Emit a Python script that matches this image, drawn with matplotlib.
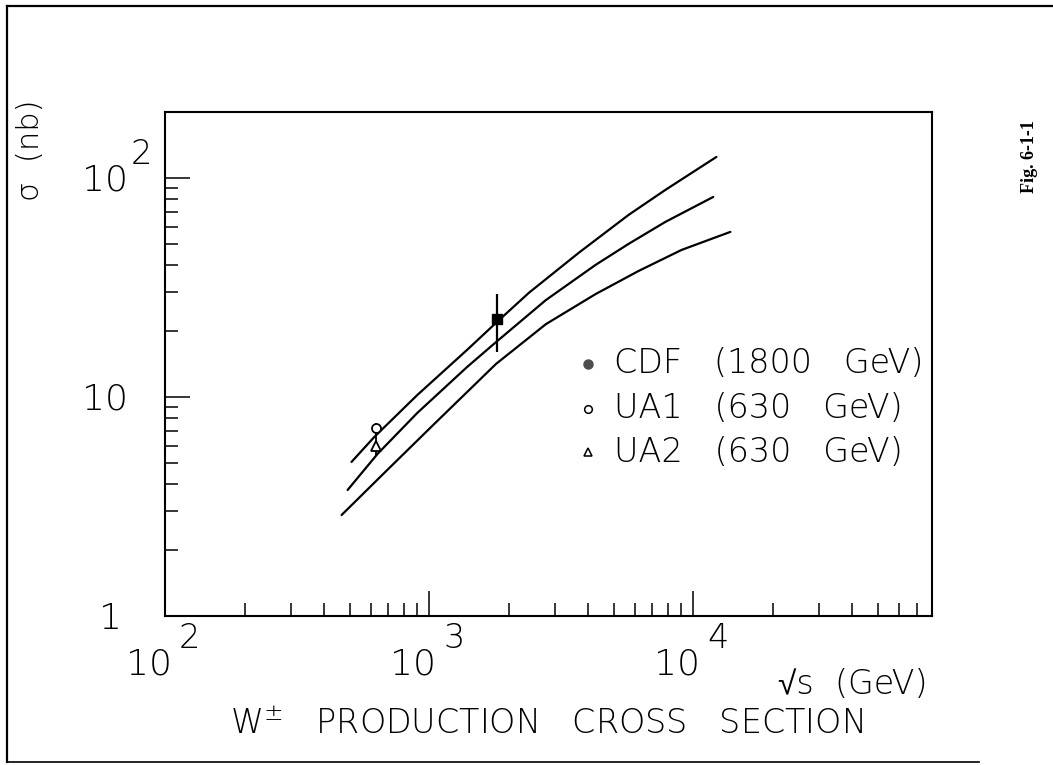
import matplotlib.pyplot as plt
from matplotlib.lines import Line2D
from matplotlib.ticker import LogLocator, NullFormatter

plt.rcParams['font.family'] = ['DejaVu Sans']
plt.rcParams['font.weight'] = 'light'
plt.rcParams['mathtext.fontset'] = 'dejavusans'

# theory curves (three of them)
upper_x = [508, 620, 901, 1391, 1805, 2385, 3680, 5685, 7835, 12220]
upper_y = [5.05, 6.57, 10.2, 16.4, 22.0, 29.9, 45.5, 67.8, 88.2, 124.7]
mid_x = [491, 637, 901, 1391, 1790, 2765, 4265, 5685, 7835, 11890]
mid_y = [3.76, 5.49, 8.45, 13.7, 17.8, 27.7, 40.1, 50.0, 63.0, 81.9]
low_x = [466, 676, 1045, 1790, 2765, 4265, 6200, 9015, 13800]
low_y = [2.89, 4.50, 7.53, 14.15, 21.5, 29.5, 37.6, 46.9, 56.7]

# measurements
cdf_x, cdf_y, cdf_err = [1800], [22.7], [[6.7], [6.8]]
ua1_x, ua1_y, ua1_err = [630], [7.2], [0.4]
ua2_x, ua2_y, ua2_err = [630], [5.97], [[0.53], [0.88]]

legend_labels = ['CDF   (1800   GeV)', 'UA1   (630   GeV)', 'UA2   (630   GeV)']
x_major = [1e2, 1e3, 1e4]
x_exps = ['2', '3', '4']
y_major = [1, 10, 100]
y_labels = ['1', '10', '10']
y_exps = ['', '', '2']

fig = plt.figure(figsize=(10.53, 7.65), dpi=100)
ax = fig.add_axes([0.1567, 0.1948, 0.7284, 0.6588])

lw = 1.6
for xs, ys in [(upper_x, upper_y), (mid_x, mid_y), (low_x, low_y)]:
    ax.plot(xs, ys, color='black', lw=lw, solid_capstyle='round',
            solid_joinstyle='round')

ax.errorbar(cdf_x, cdf_y, yerr=cdf_err, fmt='s', color='black', ms=6.5,
            elinewidth=1.6, capsize=0, zorder=5)
ax.errorbar(ua1_x, ua1_y, yerr=ua1_err, fmt='o', mfc='white', mec='black',
            ecolor='black', ms=6.5, mew=1.3, elinewidth=1.3, capsize=0, zorder=5)
ax.errorbar(ua2_x, ua2_y, yerr=ua2_err, fmt='^', mfc='white', mec='black',
            ecolor='black', ms=7, mew=1.3, elinewidth=1.3, capsize=0, zorder=5)

ax.set_xscale('log')
ax.set_yscale('log')
ax.set_xlim(100, 8e4)
ax.set_ylim(1, 200)

for sp in ax.spines.values():
    sp.set_linewidth(1.5)
ax.xaxis.set_major_locator(LogLocator(base=10, numticks=10))
ax.xaxis.set_minor_locator(LogLocator(base=10, subs=range(2, 10), numticks=20))
ax.yaxis.set_major_locator(LogLocator(base=10, numticks=10))
ax.yaxis.set_minor_locator(LogLocator(base=10, subs=range(2, 10), numticks=20))
ax.xaxis.set_major_formatter(NullFormatter())
ax.xaxis.set_minor_formatter(NullFormatter())
ax.yaxis.set_major_formatter(NullFormatter())
ax.yaxis.set_minor_formatter(NullFormatter())
ax.tick_params(which='both', direction='in', top=False, right=False, width=1.1)
ax.tick_params(which='major', length=18)
ax.tick_params(which='minor', length=9.5)

# tick labels, drawn as "10" plus a raised exponent like the original
big = 26
for v, e in zip(x_major, x_exps):
    ax.annotate('10', xy=(v, 0), xycoords=('data', 'axes fraction'),
                xytext=(5, -35), textcoords='offset points',
                ha='right', va='center', fontsize=big)
    ax.annotate(e, xy=(v, 0), xycoords=('data', 'axes fraction'),
                xytext=(10, -16.5), textcoords='offset points',
                ha='left', va='center', fontsize=big - 2)
for v, t, e in zip(y_major, y_labels, y_exps):
    dx = -26.5 if t == '10' else -31
    ax.annotate(t, xy=(0, v), xycoords=('axes fraction', 'data'),
                xytext=(dx, -2), textcoords='offset points',
                ha='right', va='center', fontsize=big)
    if e:
        ax.annotate(e, xy=(0, v), xycoords=('axes fraction', 'data'),
                    xytext=(-24.5, 17), textcoords='offset points',
                    ha='left', va='center', fontsize=big - 2)

# legend drawn by hand
leg_y = [0.500, 0.411, 0.325]
ax.plot([0.5515], [leg_y[0]], 'o', color='0.3', ms=6.5, transform=ax.transAxes)
ax.plot([0.5515], [leg_y[1]], 'o', mfc='white', mec='black', ms=5.5, mew=1.1,
        transform=ax.transAxes)
ax.plot([0.5515], [leg_y[2]], '^', mfc='white', mec='black', ms=6, mew=1.1,
        transform=ax.transAxes)
for yy, lab in zip(leg_y, legend_labels):
    ax.text(0.585, yy, lab, transform=ax.transAxes, ha='left', va='center',
            fontsize=24)

fig.text(0.0285, 0.804, 'σ  (nb)', rotation=90, ha='center', va='center',
         fontsize=22)
fig.text(0.8813, 0.1046, '√s  (GeV)', ha='right', va='center', fontsize=24,
         family=['DejaVu Sans', 'Liberation Sans', 'Noto Sans'])
fig.text(0.5185, 0.0523, 'W$^{\\pm}$   PRODUCTION   CROSS   SECTION',
         ha='center', va='center', fontsize=24)
fig.text(0.978, 0.795, 'Fig. 6-1-1', rotation=90, ha='center', va='center',
         fontsize=13, fontweight='bold', family='Liberation Serif')

# frame of the scanned page
fig.add_artist(Line2D([0.0066, 0.0066], [0.004, 0.992], color='black', lw=1.6))
fig.add_artist(Line2D([0.0066, 1.0], [0.992, 0.992], color='black', lw=1.6))
fig.add_artist(Line2D([0.0066, 0.93], [0.004, 0.004], color='black', lw=1.2))

fig.savefig('out.png', dpi=100)
